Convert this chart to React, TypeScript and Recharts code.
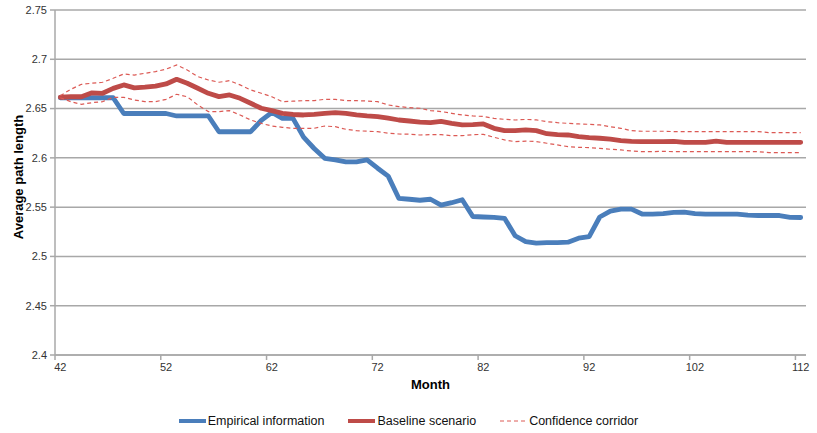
import React from 'react';
import { CartesianGrid, Label, Legend, Line, LineChart, XAxis, YAxis } from 'recharts';

const months = [
  42, 43, 44, 45, 46, 47, 48, 49, 50, 51, 52, 53, 54, 55, 56, 57, 58, 59, 60, 61, 62, 63, 64, 65,
  66, 67, 68, 69, 70, 71, 72, 73, 74, 75, 76, 77, 78, 79, 80, 81, 82, 83, 84, 85, 86, 87, 88, 89,
  90, 91, 92, 93, 94, 95, 96, 97, 98, 99, 100, 101, 102, 103, 104, 105, 106, 107, 108, 109, 110,
  111, 112,
];

const empirical = [
  2.661, 2.661, 2.661, 2.661, 2.661, 2.661, 2.645, 2.645, 2.645, 2.645, 2.645, 2.6425, 2.6425,
  2.6425, 2.6425, 2.6265, 2.6265, 2.6265, 2.6265, 2.638, 2.646, 2.64, 2.64, 2.621, 2.6095, 2.5995,
  2.598, 2.596, 2.596, 2.598, 2.5895, 2.5815, 2.559, 2.558, 2.557, 2.558, 2.552, 2.5545, 2.5575,
  2.5405, 2.54, 2.5397, 2.5387, 2.521, 2.515, 2.5135, 2.514, 2.514, 2.5145, 2.5185, 2.52, 2.54,
  2.546, 2.548, 2.548, 2.543, 2.543, 2.5435, 2.5447, 2.545, 2.5435, 2.543, 2.543, 2.543, 2.543,
  2.542, 2.5415, 2.5415, 2.5415, 2.5397, 2.5395,
];

const baseline = [
  2.6615, 2.662, 2.662, 2.666, 2.6655, 2.6705, 2.674, 2.671, 2.6717, 2.6727, 2.675, 2.6797, 2.6757,
  2.6706, 2.6655, 2.6621, 2.6638, 2.6604, 2.6554, 2.6503, 2.6479, 2.6452, 2.644, 2.6435, 2.6442,
  2.6452, 2.6459, 2.6452, 2.6435, 2.6425, 2.6418, 2.6402, 2.6384, 2.6374, 2.6362, 2.6357, 2.637,
  2.635, 2.6334, 2.6337, 2.6344, 2.63, 2.6276, 2.6276, 2.6283, 2.6276, 2.6245, 2.6235, 2.6232,
  2.6215, 2.6205, 2.6199, 2.619, 2.6175, 2.6168, 2.6164, 2.6164, 2.6164, 2.6168, 2.6158, 2.6158,
  2.6158, 2.617, 2.6158, 2.6158, 2.6158, 2.6158, 2.6158, 2.6158, 2.6158, 2.6158,
];

const corridorUpper = [
  2.663, 2.6696, 2.6746, 2.6757, 2.6767, 2.6807, 2.6851, 2.684, 2.6858, 2.6875, 2.69, 2.6942,
  2.6891, 2.6824, 2.679, 2.6767, 2.6783, 2.674, 2.6689, 2.6655, 2.662, 2.657, 2.6575, 2.658, 2.658,
  2.6594, 2.6594, 2.658, 2.658, 2.6577, 2.657, 2.6537, 2.652, 2.651, 2.6503, 2.648, 2.647, 2.6452,
  2.6435, 2.6425, 2.642, 2.64, 2.6391, 2.6384, 2.639, 2.6385, 2.6367, 2.6357, 2.635, 2.6344, 2.634,
  2.6334, 2.6316, 2.63, 2.6276, 2.627, 2.627, 2.627, 2.6266, 2.6266, 2.6266, 2.6266, 2.6266,
  2.6266, 2.6266, 2.6266, 2.6266, 2.6256, 2.6256, 2.6256, 2.6256,
];

const corridorLower = [
  2.661, 2.657, 2.6543, 2.656, 2.657, 2.6614, 2.6614, 2.6587, 2.657, 2.657, 2.6594, 2.6645, 2.662,
  2.6537, 2.6469, 2.6469, 2.6479, 2.6435, 2.6384, 2.635, 2.6323, 2.631, 2.63, 2.63, 2.63, 2.6323,
  2.6316, 2.629, 2.6276, 2.627, 2.6266, 2.625, 2.6242, 2.624, 2.6232, 2.6235, 2.6235, 2.6225,
  2.6225, 2.6235, 2.6239, 2.6209, 2.6182, 2.6164, 2.617, 2.6165, 2.6148, 2.6131, 2.6114, 2.6107,
  2.6104, 2.6097, 2.6087, 2.608, 2.607, 2.6063, 2.6063, 2.6066, 2.6063, 2.6063, 2.6063, 2.6063,
  2.6063, 2.6063, 2.6063, 2.6063, 2.6063, 2.6053, 2.6053, 2.6053, 2.6053,
];

const yTicks = [2.4, 2.45, 2.5, 2.55, 2.6, 2.65, 2.7, 2.75];
const monthLabels = [42, 52, 62, 72, 82, 92, 102, 112];

const data = months.map((m, i) => ({
  month: m,
  empirical: empirical[i],
  baseline: baseline[i],
  upper: corridorUpper[i],
  lower: corridorLower[i],
}));

const W = 817;
const H = 433;
const MARGIN = { top: 10, right: 11, left: 10, bottom: 0 };
const Y_AXIS_W = 45;
const PLOT_W = W - MARGIN.left - Y_AXIS_W - MARGIN.right;
const HALF_STEP = PLOT_W / months.length / 2;

const FONT = "'Liberation Sans', Arial, sans-serif";
const BLUE = '#4a7ebb';
const RED = '#be4b48';
const CORRIDOR = '#dc5a55';
const GRID = '#a8a8a8';

// tick marks sit between categories (Excel style), labels sit on the category
function MonthTick(props: any) {
  const { x, y, payload } = props;
  return (
    <text
      x={x + HALF_STEP}
      y={y}
      dy="0.71em"
      textAnchor="middle"
      fontSize={11}
      fontFamily={FONT}
      fill="#333"
    >
      {payload.value + 0.5}
    </text>
  );
}

const LEGEND_ITEMS = [
  { label: 'Empirical information', color: BLUE, width: 4, dash: undefined },
  { label: 'Baseline scenario', color: RED, width: 4, dash: undefined },
  { label: 'Confidence corridor', color: CORRIDOR, width: 1, dash: '4 3' },
];

function ChartLegend() {
  return (
    <div
      style={{
        display: 'flex',
        justifyContent: 'center',
        alignItems: 'center',
        gap: 24,
        fontFamily: FONT,
        fontSize: 12.5,
        color: '#111',
      }}
    >
      {LEGEND_ITEMS.map((it) => (
        <div key={it.label} style={{ display: 'flex', alignItems: 'center' }}>
          <svg width={27} height={10} style={{ marginRight: 2 }}>
            <line
              x1={0}
              y1={5}
              x2={27}
              y2={5}
              stroke={it.color}
              strokeWidth={it.width}
              strokeDasharray={it.dash}
            />
          </svg>
          <span>{it.label}</span>
        </div>
      ))}
    </div>
  );
}

export default function App() {
  return (
    <div style={{ position: 'absolute', left: 0, top: 0, width: W, height: H, background: '#fff' }}>
      <LineChart width={W} height={H} data={data} margin={MARGIN}>
        <CartesianGrid vertical={false} stroke={GRID} strokeWidth={1.5} />
        <XAxis
          dataKey="month"
          type="number"
          domain={[41.5, 112.5]}
          ticks={monthLabels.map((m) => m - 0.5)}
          height={78}
          tick={<MonthTick />}
          tickSize={5}
          tickMargin={3}
          axisLine={{ stroke: GRID, strokeWidth: 1.5 }}
          tickLine={{ stroke: GRID, strokeWidth: 1.5 }}
          interval={0}
        >
          <Label
            value="Month"
            position="insideTop"
            offset={25}
            style={{ fontWeight: 'bold', fontSize: 13, fontFamily: FONT, fill: '#000' }}
          />
        </XAxis>
        <YAxis
          domain={[2.4, 2.75]}
          ticks={yTicks}
          width={Y_AXIS_W}
          interval={0}
          allowDataOverflow
          tickSize={5}
          tickMargin={3}
          tick={{ fontSize: 11, fontFamily: FONT, fill: '#333' }}
          axisLine={{ stroke: GRID, strokeWidth: 1.5 }}
          tickLine={{ stroke: GRID, strokeWidth: 1.5 }}
        >
          <Label
            content={() => (
              <text
                transform="translate(23,177) rotate(-90)"
                textAnchor="middle"
                fontWeight="bold"
                fontSize={13}
                fontFamily={FONT}
                fill="#000"
              >
                Average path length
              </text>
            )}
          />
        </YAxis>
        <Legend
          layout="horizontal"
          verticalAlign="middle"
          align="center"
          content={<ChartLegend />}
          wrapperStyle={{ top: 414, left: 0, width: W }}
        />
        <Line
          dataKey="empirical"
          name="Empirical information"
          stroke={BLUE}
          strokeWidth={4.8}
          strokeLinejoin="round"
          strokeLinecap="round"
          dot={false}
          activeDot={false}
          isAnimationActive={false}
        />
        <Line
          dataKey="baseline"
          name="Baseline scenario"
          stroke={RED}
          strokeWidth={4.8}
          strokeLinejoin="round"
          strokeLinecap="round"
          dot={false}
          activeDot={false}
          isAnimationActive={false}
        />
        <Line
          dataKey="upper"
          name="Confidence corridor"
          stroke={CORRIDOR}
          strokeWidth={1.2}
          strokeDasharray="4 3"
          dot={false}
          activeDot={false}
          isAnimationActive={false}
        />
        <Line
          dataKey="lower"
          name="Confidence corridor (lower)"
          stroke={CORRIDOR}
          strokeWidth={1.2}
          strokeDasharray="4 3"
          dot={false}
          activeDot={false}
          isAnimationActive={false}
        />
      </LineChart>
    </div>
  );
}
